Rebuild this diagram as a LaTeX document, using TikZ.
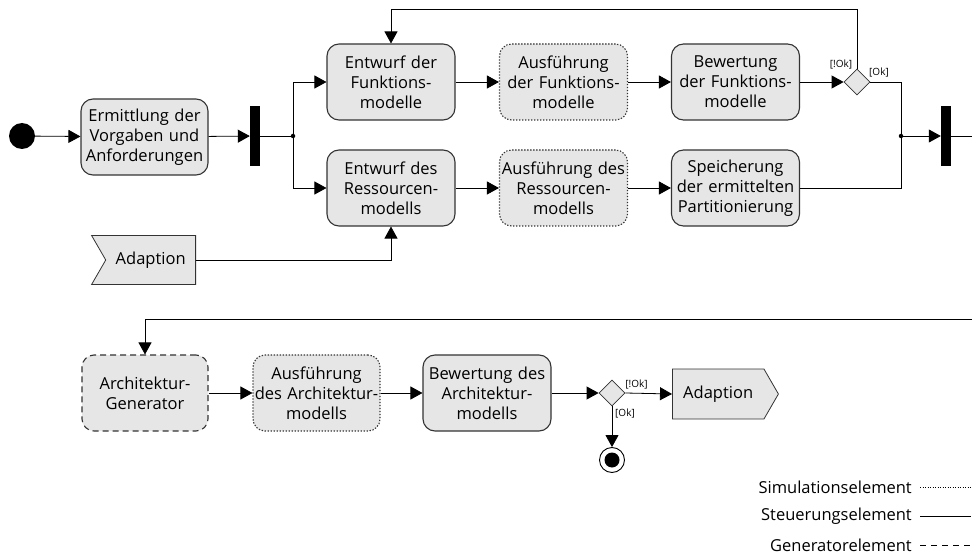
\documentclass[tikz,border=0pt]{standalone}
\usepackage{fontspec}
\setmainfont{Open Sans}
\usetikzlibrary{arrows.meta,shapes.geometric,shapes.symbols}
\definecolor{boxfill}{HTML}{E6E6E6}
\definecolor{boxline}{HTML}{333333}
\begin{document}
\begin{tikzpicture}[x=1pt,y=-1pt,
  every node/.style={font=\fontsize{16.5}{20}\selectfont},
  act/.style={draw=boxline,line width=1.1pt,fill=boxfill,rounded corners=12pt,
    text width=126pt,minimum height=76pt,align=center,inner sep=1pt},
  ctrl/.style={act},
  sim/.style={act,dash pattern=on 1.4pt off 1.6pt},
  gen/.style={act,dash pattern=on 6pt off 4pt},
  arr/.style={-{Triangle[length=12pt,width=13pt]},line width=0.8pt},
  flow/.style={line width=0.8pt},
  bar/.style={fill=black,minimum width=10pt,minimum height=60pt,inner sep=0pt},
  dec/.style={diamond,draw=boxline,fill=boxfill,line width=0.8pt,minimum size=26pt,inner sep=0pt},
  dot/.style={circle,fill=black,minimum size=4.5pt,inner sep=0pt},
  guard/.style={font=\fontsize{10}{11}\selectfont,inner sep=0pt},
  signal box/.style={signal,draw=boxline,fill=boxfill,line width=0.8pt,
    signal pointer angle=120,minimum height=49pt,inner sep=0pt},
  legend/.style={anchor=east,inner sep=0pt,font=\fontsize{16.5}{18}\selectfont}]
\useasboundingbox (0,0) rectangle (972,556);

% --- upper part: partitioning loop ---
\node[circle,fill=black,minimum size=26pt,inner sep=0pt] (start) at (22,136) {};
\node[ctrl,text width=125pt] (req) at (144.5,137) {Ermittlung der\\Vorgaben und\\Anforderungen};
\node[bar] (fork1) at (255,136) {};
\node[dot] (split) at (293,136) {};

\node[ctrl] (ef) at (391,82) {Entwurf der\\Funktions-\\modelle};
\node[sim]  (af) at (563.5,82) {Ausführung\\der Funktions-\\modelle};
\node[ctrl] (bf) at (735.5,82) {Bewertung\\der Funktions-\\modelle};
\node[dec]  (d1) at (857,82) {};

\node[ctrl] (er) at (391,188) {Entwurf des\\Ressourcen-\\modells};
\node[sim]  (ar) at (563.5,188) {Ausführung des\\Ressourcen-\\modells};
\node[ctrl] (sp) at (735.5,188) {Speicherung\\der ermittelten\\Partitionierung};

\node[dot] (join) at (901,136) {};
\node[bar] (fork2) at (946,136) {};

\node[signal box,signal from=west,signal to=nowhere,minimum width=104pt,anchor=east] (ad1) at (196,260) {Adaption};

\node[guard] (g1) at (841,64.5) {[!Ok]};
\node[guard] (g2) at (879,72.5) {[Ok]};

\coordinate (loop1) at (857,9);
\coordinate (okturn) at (901,82);
\coordinate (out1) at (972,136);

\draw[arr] (start) -- (req);
\draw[arr] (req) -- (fork1);
\draw[flow] (fork1) -- (split);
\draw[arr] (split) |- (ef.west);
\draw[arr] (split) |- (er.west);
\draw[arr] (ef) -- (af);
\draw[arr] (af) -- (bf);
\draw[arr] (bf) -- (d1);
\draw[arr] (d1.north) -- (loop1) -| (ef.north);
\draw[flow] (d1.east) -- (okturn) -- (join);
\draw[arr] (er) -- (ar);
\draw[arr] (ar) -- (sp);
\draw[flow] (sp.east) -| (join);
\draw[arr] (join) -- (fork2);
\draw[flow] (fork2) -- (out1);
\draw[arr] (ad1.east) -| (er.south);

% --- lower part: architecture loop ---
\coordinate (in2) at (972,319);
\node[gen,text width=124pt]  (ag) at (145,393) {Architektur-\\Generator};
\node[sim,text width=125pt]  (aa) at (316.5,393) {Ausführung\\des Architektur-\\modells};
\node[ctrl] (ba) at (487,393) {Bewertung des\\Architektur-\\modells};
\node[dec]  (d2) at (612,393) {};
\node[signal box,signal to=east,signal from=nowhere,minimum width=106pt,minimum height=50pt,anchor=west] (ad2) at (672,394) {Adaption};
\node[circle,draw=black,line width=0.9pt,fill=white,minimum size=25pt,inner sep=0pt] (final) at (612,460) {};
\fill (final.center) circle (7.5pt);

\node[guard] (g3) at (636.5,384) {[!Ok]};
\node[guard] (g4) at (625,413) {[Ok]};

\draw[arr] (in2) -| (ag.north);
\draw[arr] (ag) -- (aa);
\draw[arr] (aa) -- (ba);
\draw[arr] (ba) -- (d2);
\draw[arr] (d2.east) -- (ad2.west);
\draw[arr] (d2.south) -- (final.north);

% --- legend ---
\node[legend] (l1) at (912,487) {Simulationselement};
\node[legend] (l2) at (912,516) {Steuerungselement};
\node[legend] (l3) at (912,545) {Generatorelement};
\coordinate (l1e) at (971,487);
\coordinate (l2e) at (971,516);
\coordinate (l3e) at (971,545);
\draw[line width=0.6pt,dash pattern=on 1pt off 1.5pt] ([xshift=8pt]l1.east) -- (l1e);
\draw[line width=0.8pt] ([xshift=8pt]l2.east) -- (l2e);
\draw[line width=0.8pt,dash pattern=on 6pt off 5pt] ([xshift=8pt]l3.east) -- (l3e);
\end{tikzpicture}
\end{document}
